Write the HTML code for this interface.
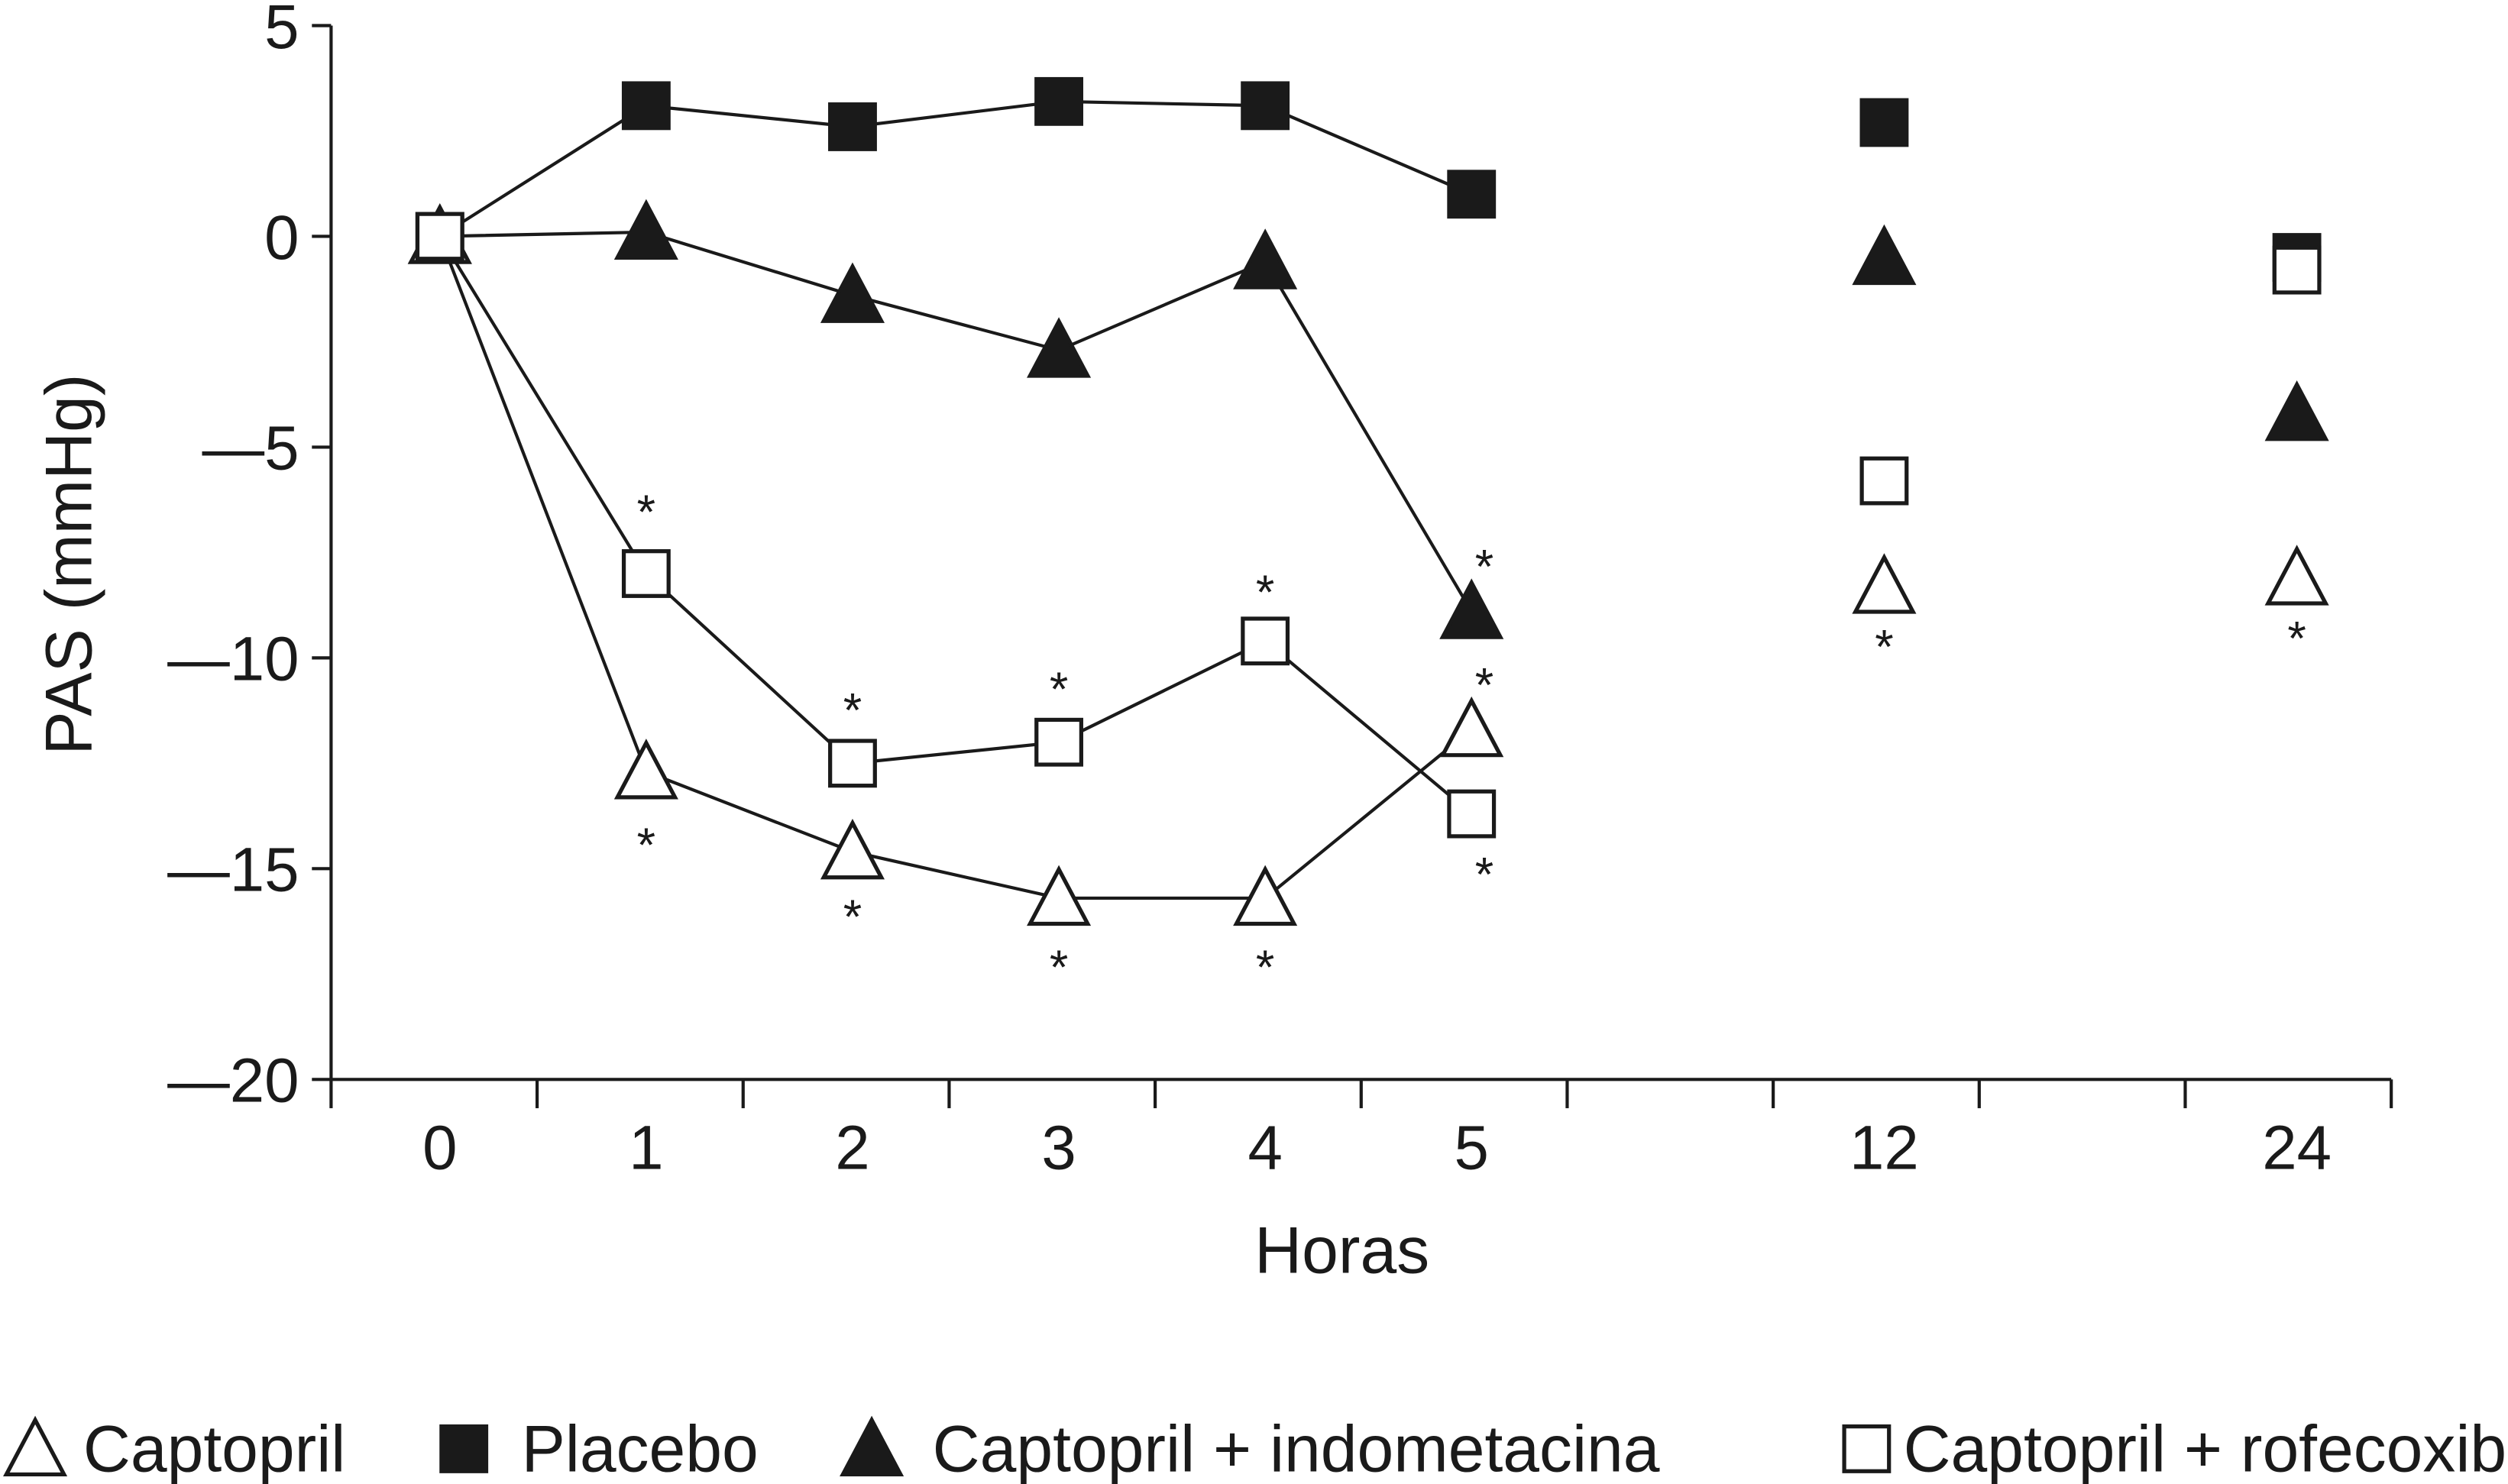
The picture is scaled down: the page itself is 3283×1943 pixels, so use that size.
<!DOCTYPE html>
<html><head><meta charset="utf-8"><style>
html,body{margin:0;padding:0;background:#fff;}
svg{display:block;}
text{font-family:"Liberation Sans",Arial,sans-serif;fill:#1a1a1a;}
</style></head><body>
<svg id="chart" width="3283" height="1943" viewBox="0 0 1568 928" preserveAspectRatio="none" xmlns="http://www.w3.org/2000/svg">
<g id="axes"></g><g id="series"></g><g id="legend"></g>
</svg>
<script>
const categories = ["0","1","2","3","4","5","12","24"];
const slots = [0.5,1.5,2.5,3.5,4.5,5.5,7.5,9.5];
const yTicks = [5,0,-5,-10,-15,-20];
const placebo = [0,3.1,2.6,3.2,3.1,1.0,2.7,-0.5];
const indometacina = [0,0.1,-1.4,-2.7,-0.6,-8.9,-0.5,-4.2];
const rofecoxib = [0,-8.0,-12.5,-12.0,-9.6,-13.7,-5.8,-0.8];
const captopril = [0,-12.7,-14.6,-15.7,-15.7,-11.7,-8.3,-8.1];
const starsCaptopril = [[1,-14.3],[2,-16.0],[3,-17.2],[4,-17.2],[5,-10.5],[6,-9.6],[7,-9.4]];
const starsRofecoxib = [[1,-6.4],[2,-11.1],[3,-10.6],[4,-8.3],[5,-15.0]];
const starsIndo = [[5,-7.7]];

const NS="http://www.w3.org/2000/svg";
const X0=207, X1=1495, Y5=16, Y20=675, PX0=210.5, PW=129;
const x=i=>PX0+slots[i]*PW;
const y=v=>Y5+(5-v)*(Y20-Y5)/25;
function el(tag,attrs,parent,txt){const e=document.createElementNS(NS,tag);for(const k in attrs)e.setAttribute(k,attrs[k]);if(txt!==undefined)e.textContent=txt;parent.appendChild(e);return e;}
const axes=document.getElementById('axes'), ser=document.getElementById('series'), leg=document.getElementById('legend');
let a=el('line',{x1:X0,y1:Y5,x2:X0,y2:Y20,stroke:'#1a1a1a','stroke-width':2},axes);


a=el('line',{x1:X0,y1:Y20,x2:X1,y2:Y20,stroke:'#1a1a1a','stroke-width':2},axes);


yTicks.forEach(v=>{
  el('line',{x1:X0-12,y1:y(v),x2:X0,y2:y(v),stroke:'#1a1a1a','stroke-width':2},axes);
  const t=el('text',{x:X0-20,y:y(v)+14,'font-size':39,'text-anchor':'end'},axes,v<0?'\u2014'+Math.abs(v):String(v));
  
  
});
for(let k=0;k<=10;k++){const xx=X0+k*(X1-X0)/10;el('line',{x1:xx,y1:Y20,x2:xx,y2:Y20+18,stroke:'#1a1a1a','stroke-width':2},axes);}
categories.forEach((c,i)=>{
  const t=el('text',{x:x(i),y:731,'font-size':39,'text-anchor':'middle'},axes,c);
  
  
});
let t=el('text',{x:839,y:796,'font-size':41,'text-anchor':'middle'},axes,'Horas');


t=el('text',{x:0,y:0,'font-size':41,'text-anchor':'middle',transform:'translate(57,353) rotate(-90)'},axes,'PAS (mmHg)');



function marker(kind,cx,cy,parent){
  if(kind==='sq'||kind==='osq'){const s=28;return el('rect',{x:cx-s/2,y:cy-s/2,width:s,height:s,fill:kind==='sq'?'#1a1a1a':'#fff',stroke:'#1a1a1a','stroke-width':2.5},parent);}
  const w=36,h=32;return el('polygon',{points:`${cx-w/2},${cy+h/2} ${cx+w/2},${cy+h/2} ${cx},${cy-h/2-2}`,fill:kind==='tri'?'#1a1a1a':'#fff',stroke:'#1a1a1a','stroke-width':2.5},parent);
}
function series(vals,kind,name){
  const pts=vals.slice(0,6).map((v,i)=>x(i)+','+y(v)).join(' ');
  const l=el('polyline',{points:pts,fill:'none',stroke:'#1a1a1a','stroke-width':2},ser);
  
  
  return ()=>vals.forEach((v,i)=>{const m=marker(kind,x(i),y(v),ser);
    
    });
}
const d1=series(placebo,'sq','placebo');
const d2=series(indometacina,'tri','indometacina');
const d3=series(captopril,'otri','captopril');
const d4=series(rofecoxib,'osq','rofecoxib');
d1();d2();d3();d4();
[starsCaptopril,starsRofecoxib,starsIndo].forEach(arr=>arr.forEach(([i,v])=>{
  const s=el('text',{x:x(i)+(i===5?8:0),y:y(v)+14,'font-size':30,'text-anchor':'middle'},ser,'*');
  
  
}));
const legendItems=[['otri','Captopril',22,52],['sq','Placebo',290,326],['tri','Captopril + indometacina',545,583],['osq','Captopril + rofecoxib',1167,1190]];
legendItems.forEach(([k,label,lx,tx])=>{
  const g=el('g',{},leg);
  
  
  marker(k,lx,906,g);
  el('text',{x:tx,y:920,'font-size':41},g,label);
});
</script>
</body></html>
